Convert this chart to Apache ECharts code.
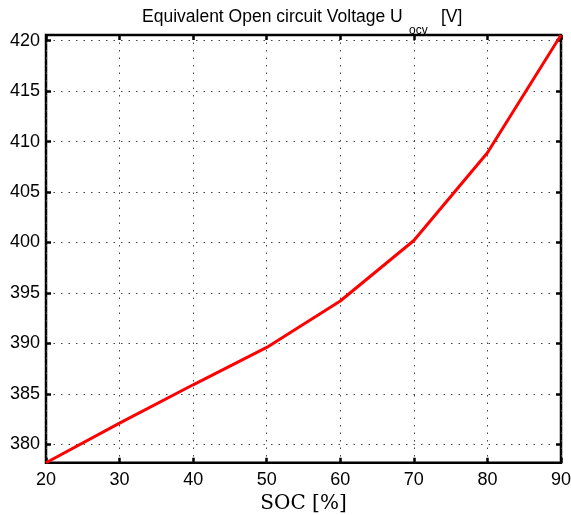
<!DOCTYPE html>
<html>
<head>
<meta charset="utf-8">
<script src="https://cdn.jsdelivr.net/npm/echarts@6/dist/echarts.min.js"></script>
<style>html,body{margin:0;padding:0;background:#fff;}#c{width:571px;height:515px;}</style>
</head>
<body>
<div id="c"></div>
<script>
const soc = [20, 30, 40, 50, 60, 70, 80, 90];
const uocv = [378.18, 382.1, 385.9, 389.6, 394.2, 400.2, 408.9, 420.56];
const xTicks = [20, 30, 40, 50, 60, 70, 80, 90];
const yTicks = [380, 385, 390, 395, 400, 405, 410, 415, 420];
const titleMain = 'Equivalent Open circuit Voltage U';
const titleSub = 'ocv';
const titleEnd = '[V]';
const xName = 'SOC [%]';

const chart = echarts.init(document.getElementById('c'), null, {renderer: 'canvas'});
const yMin = Math.min(...uocv), yMax = Math.max(...uocv);
const tickStyle = {color: '#000', width: 2.5};
const sans = 'Liberation Sans';
chart.setOption({
  animation: false,
  backgroundColor: '#fff',
  graphic: [
    {type: 'text', z: 100, left: 142, top: 8, style: {text: titleMain, font: '17.5px "Liberation Sans"', fill: '#000'}},
    {type: 'text', z: 100, left: 409, top: 25, style: {text: titleSub, font: '12px "Liberation Sans"', fill: '#000'}},
    {type: 'text', z: 100, left: 441, top: 8, style: {text: titleEnd, font: '17.5px "Liberation Sans"', fill: '#000'}}
  ],
  grid: {left: 46, right: 10, top: 35, bottom: 52.3, show: true, borderColor: '#000', borderWidth: 2.5,
         containLabel: false, outerBoundsMode: 'none'},
  xAxis: [{
    type: 'value', min: xTicks[0], max: xTicks[xTicks.length - 1], interval: 10,
    name: xName, nameLocation: 'middle', nameGap: 29,
    nameTextStyle: {fontFamily: 'DejaVu Serif', fontSize: 20, color: '#000'},
    axisLine: {show: false},
    axisTick: {inside: true, length: 5, lineStyle: tickStyle},
    axisLabel: {fontFamily: sans, fontSize: 18, color: '#000', margin: 8},
    splitLine: {show: true, lineStyle: {type: [1.5, 6], color: '#444', width: 1}}
  }, {
    type: 'value', position: 'top', min: xTicks[0], max: xTicks[xTicks.length - 1], interval: 10,
    axisLine: {show: false},
    axisTick: {inside: true, length: 5, lineStyle: tickStyle},
    axisLabel: {show: false}, splitLine: {show: false}
  }],
  yAxis: [{
    type: 'value', min: yMin, max: yMax,
    axisLine: {show: false},
    axisTick: {inside: true, length: 5, customValues: yTicks, lineStyle: tickStyle},
    axisLabel: {customValues: yTicks, fontFamily: sans, fontSize: 18, color: '#000', margin: 6},
    splitLine: {show: true, lineStyle: {type: [1.5, 6], color: '#444', width: 1}}
  }, {
    type: 'value', position: 'right', min: yMin, max: yMax,
    axisLine: {show: false},
    axisTick: {inside: true, length: 5, customValues: yTicks, lineStyle: tickStyle},
    axisLabel: {show: false, customValues: yTicks}, splitLine: {show: false}
  }],
  series: [{
    type: 'line', xAxisIndex: 0, yAxisIndex: 0,
    data: soc.map((s, i) => [s, uocv[i]]),
    showSymbol: false, symbol: 'none',
    lineStyle: {color: '#ff0000', width: 3},
    clip: false
  }]
});
</script>
</body>
</html>
